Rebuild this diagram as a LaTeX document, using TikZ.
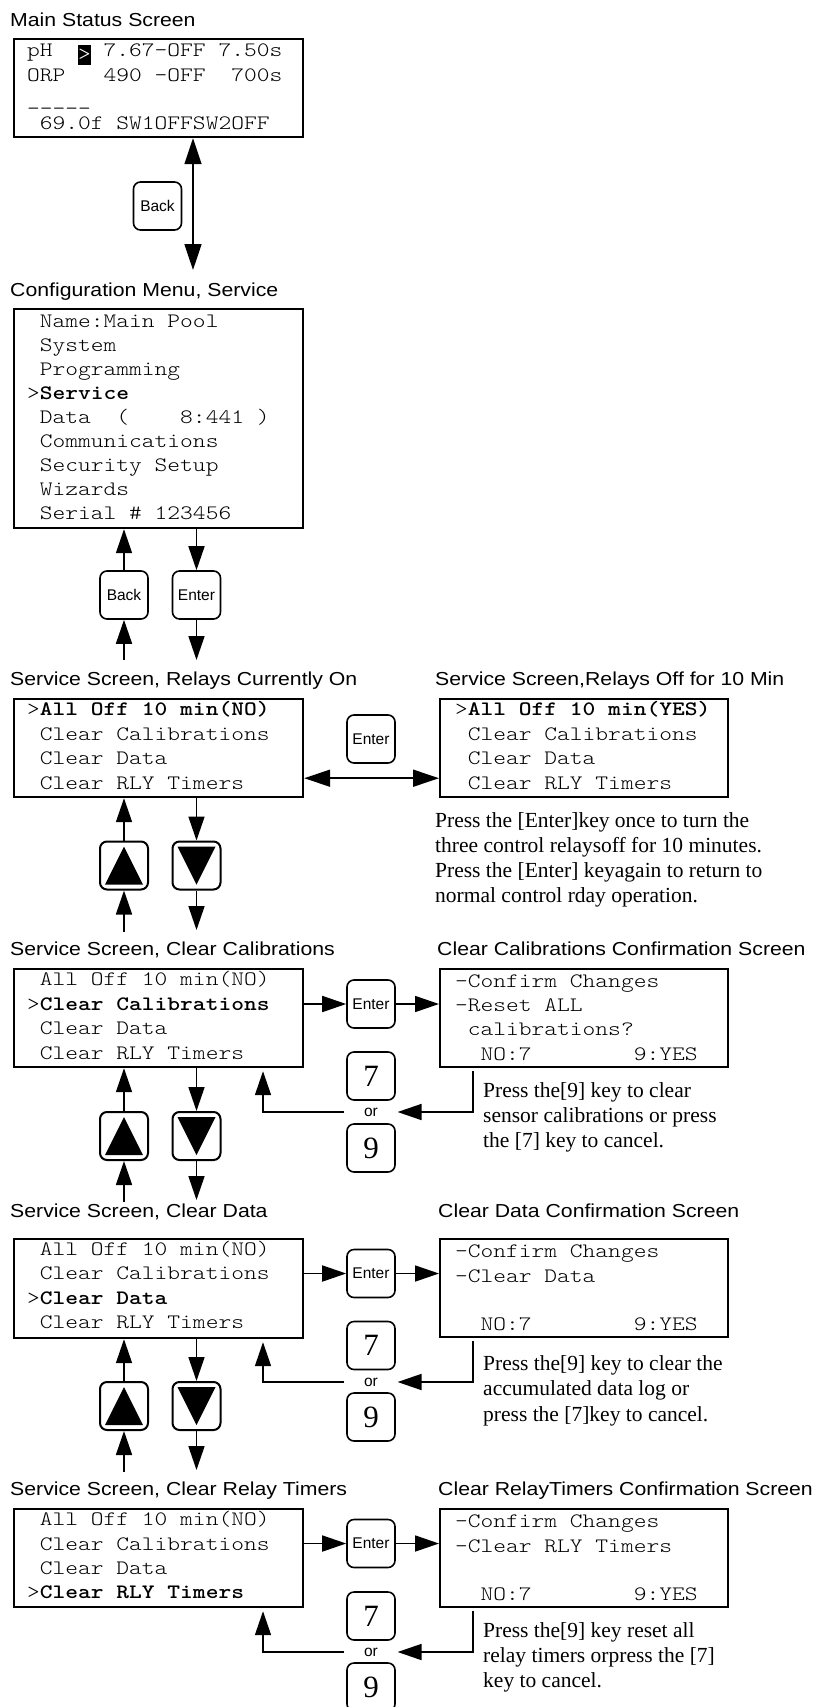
\documentclass[tikz,border=0pt]{standalone}
\usepackage{fontspec}
\usetikzlibrary{arrows.meta,calc}
\newfontfamily\titlef[FakeStretch=1.13]{Liberation Sans}
\newfontfamily\keyf{Liberation Sans}
\newfontfamily\lcdf{lmmonolt10-regular}[Extension=.otf, BoldFont=lmmonolt10-bold, FakeStretch=1.185]
\newfontfamily\parf{Liberation Serif}
\newcommand\upkeytri[1]{\fill ($(#1)+(0,-19)$) -- ($(#1)+(19,19)$) -- ($(#1)+(-19,19)$) -- cycle;}
\newcommand\downkeytri[1]{\fill ($(#1)+(0,19)$) -- ($(#1)+(19,-19)$) -- ($(#1)+(-19,-19)$) -- cycle;}
\tikzset{
 screen/.style={draw, line width=2.2pt, inner sep=0, anchor=north west, minimum height=98pt},
 lcd/.style={anchor=base west, inner sep=0, font=\lcdf\fontsize{20.5}{24}\selectfont},
 ttl/.style={anchor=base west, inner sep=0, font=\titlef\fontsize{18.8}{22}\selectfont},
 para/.style={anchor=base west, inner sep=0, font=\parf\fontsize{21.5}{25}\selectfont},
 key/.style={draw, line width=1.6pt, rounded corners=7pt, minimum width=48pt, minimum height=48pt, inner sep=0, font=\keyf\fontsize{15.5}{18}\selectfont},
 arrkey/.style={key, line width=2pt},
 numkey/.style={key, font=\parf\fontsize{31}{31}\selectfont},
 ornode/.style={inner xsep=19.5pt, inner ysep=0, font=\keyf\fontsize{15.5}{18}\selectfont},
 conn/.style={line width=1.7pt, -{Triangle[length=24pt,width=16pt]}},
 dconn/.style={line width=1.7pt, {Triangle[length=26pt,width=17pt]}-{Triangle[length=26pt,width=17pt]}},
}
\begin{document}
\begin{tikzpicture}[x=1pt,y=-1pt]
\useasboundingbox (0,0) rectangle (828,1707);

% ---------- titles ----------
\node[ttl] (t1) at (10,26.5) {Main Status Screen};
\node[ttl] (t2) at (10,296.5) {Configuration Menu, Service};
\node[ttl] (t3) at (10,685) {Service Screen, Relays Currently On};
\node[ttl] (t4) at (435,685) {Service Screen,Relays Off for 10 Min};
\node[ttl] (t5) at (10,955) {Service Screen, Clear Calibrations};
\node[ttl] (t6) at (437,955) {Clear Calibrations Confirmation Screen};
\node[ttl] (t7) at (10,1217) {Service Screen, Clear Data};
\node[ttl] (t8) at (438,1217) {Clear Data Confirmation Screen};
\node[ttl] (t9) at (10,1495) {Service Screen, Clear Relay Timers};
\node[ttl] (t10) at (438,1495) {Clear RelayTimers Confirmation Screen};

% ---------- screens ----------
\node[screen, minimum width=289pt] (S1) at (13,38) {};
\node[screen, minimum width=289pt, minimum height=219pt] (S2) at (13,308) {};
\node[screen, minimum width=289pt] (S3) at (13,698) {};
\node[screen, minimum width=288pt] (S4) at (439,698) {};
\node[screen, minimum width=289pt] (S5) at (13,968) {};
\node[screen, minimum width=288pt] (S6) at (439,968) {};
\node[screen, minimum width=289pt, minimum height=99pt] (S7) at (13,1238) {};
\node[screen, minimum width=288pt] (S8) at (439,1238) {};
\node[screen, minimum width=289pt] (S9) at (13,1508) {};
\node[screen, minimum width=288pt] (S10) at (439,1508) {};

% S1 text
\node[lcd] (s1a) at (27,57) {pH~~~~7.67-OFF~7.50s};
\node[fill=black, text=white, inner sep=0, minimum width=13pt, minimum height=20pt, font=\lcdf\fontsize{20.5}{24}\selectfont] (hl) at (84.5,55) {>};
\node[lcd] (s1b) at (27,82) {ORP~~~490~-OFF~~700s};
\node[lcd] (s1c) at (27,105.5) {\_\_\_\_\_};
\node[lcd] (s1d) at (27,130) {~69.0f~SW1OFFSW2OFF};

% S2 text
\node[lcd] (s2a) at (27,327) {~Name:Main~Pool};
\node[lcd] (s2b) at (27,351.1) {~System};
\node[lcd] (s2c) at (27,375.2) {~Programming};
\node[lcd] (s2d) at (27,399.3) {>\textbf{Service}};
\node[lcd] (s2e) at (27,423.4) {~Data~~(~~~~8:441~)};
\node[lcd] (s2f) at (27,447.5) {~Communications};
\node[lcd] (s2g) at (27,471.6) {~Security~Setup};
\node[lcd] (s2h) at (27,495.7) {~Wizards};
\node[lcd] (s2i) at (27,519.8) {~Serial~\#~123456};

% S3 text
\node[lcd] (s3a) at (27,715) {>\textbf{All~Off~10~min(NO)}};
\node[lcd] (s3b) at (27,740) {~Clear~Calibrations};
\node[lcd] (s3c) at (27,764.5) {~Clear~Data};
\node[lcd] (s3d) at (27,789) {~Clear~RLY~Timers};

% S4 text
\node[lcd] (s4a) at (455,715) {>\textbf{All~Off~10~min(YES)}};
\node[lcd] (s4b) at (455,740) {~Clear~Calibrations};
\node[lcd] (s4c) at (455,764.5) {~Clear~Data};
\node[lcd] (s4d) at (455,789) {~Clear~RLY~Timers};

% S5 text
\node[lcd] (s5a) at (27,985) {~All~Off~10~min(NO)};
\node[lcd] (s5b) at (27,1010) {>\textbf{Clear~Calibrations}};
\node[lcd] (s5c) at (27,1034.5) {~Clear~Data};
\node[lcd] (s5d) at (27,1059) {~Clear~RLY~Timers};

% S6 text
\node[lcd] (s6a) at (455,987) {-Confirm~Changes};
\node[lcd] (s6b) at (455,1011) {-Reset~ALL};
\node[lcd] (s6c) at (455,1035) {~calibrations?};
\node[lcd] (s6d) at (455,1060) {~~NO:7~~~~~~~~9:YES};

% S7 text
\node[lcd] (s7a) at (27,1255) {~All~Off~10~min(NO)};
\node[lcd] (s7b) at (27,1279.5) {~Clear~Calibrations};
\node[lcd] (s7c) at (27,1304) {>\textbf{Clear~Data}};
\node[lcd] (s7d) at (27,1328.5) {~Clear~RLY~Timers};

% S8 text
\node[lcd] (s8a) at (455,1257) {-Confirm~Changes};
\node[lcd] (s8b) at (455,1282) {-Clear~Data};
\node[lcd] (s8d) at (455,1330) {~~NO:7~~~~~~~~9:YES};

% S9 text
\node[lcd] (s9a) at (27,1525) {~All~Off~10~min(NO)};
\node[lcd] (s9b) at (27,1550) {~Clear~Calibrations};
\node[lcd] (s9c) at (27,1574.5) {~Clear~Data};
\node[lcd] (s9d) at (27,1598.5) {>\textbf{Clear~RLY~Timers}};

% S10 text
\node[lcd] (s10a) at (455,1527) {-Confirm~Changes};
\node[lcd] (s10b) at (455,1552) {-Clear~RLY~Timers};
\node[lcd] (s10d) at (455,1600) {~~NO:7~~~~~~~~9:YES};

% ---------- paragraphs ----------
\node[para] (p4a) at (435,827) {Press the [Enter]key once to turn the};
\node[para] (p4b) at (435,852.5) {three control relaysoff for 10 minutes.};
\node[para] (p4c) at (435,877.5) {Press the [Enter] keyagain to return to};
\node[para] (p4d) at (435,902) {normal control rday operation.};

\node[para] (p6a) at (483,1097) {Press the[9] key to clear};
\node[para] (p6b) at (483,1122) {sensor calibrations or press};
\node[para] (p6c) at (483,1147) {the [7] key to cancel.};

\node[para] (p8a) at (483,1370) {Press the[9] key to clear the};
\node[para] (p8b) at (483,1395.5) {accumulated data log or};
\node[para] (p8c) at (483,1421) {press the [7]key to cancel.};

\node[para] (p10a) at (483,1637) {Press the[9] key reset all};
\node[para] (p10b) at (483,1662) {relay timers orpress the [7]};
\node[para] (p10c) at (483,1687) {key to cancel.};

% ---------- keys ----------
\node[key] (back1) at (157.5,206) {Back};
\node[key] (back2) at (124,595) {Back};
\node[key] (enter2) at (196.5,595) {Enter};

\node[arrkey] (up3) at (124,865.5) {};
\node[arrkey] (down3) at (196.5,865.5) {};
\node[key] (enter3) at (371,739) {Enter};

\node[arrkey] (up5) at (124,1136) {};
\node[arrkey] (down5) at (196.5,1136) {};
\node[key] (enter5) at (371,1004) {Enter};
\node[numkey] (seven5) at (371,1076) {7};
\node[ornode] (or5) at (371,1112) {or};
\node[numkey] (nine5) at (371,1148) {9};

\node[arrkey] (up7) at (124,1406) {};
\node[arrkey] (down7) at (196.5,1406) {};
\node[key] (enter7) at (371,1273.5) {Enter};
\node[numkey] (seven7) at (371,1345.5) {7};
\node[ornode] (or7) at (371,1382) {or};
\node[numkey] (nine7) at (371,1417) {9};

\node[key] (enter9) at (371,1543.5) {Enter};
\node[numkey] (seven9) at (371,1616) {7};
\node[ornode] (or9) at (371,1652) {or};
\node[numkey] (nine9) at (371,1687) {9};

\upkeytri{up3}\downkeytri{down3}
\upkeytri{up5}\downkeytri{down5}
\upkeytri{up7}\downkeytri{down7}

% ---------- free ends ----------
\coordinate (c1) at (193,270);
\coordinate (b2in) at (124,660);
\coordinate (e2out) at (196.5,660);
\coordinate (u3in) at (124,932);
\coordinate (d3out) at (196.5,930);
\coordinate (u5in) at (124,1202);
\coordinate (d5out) at (196.5,1200);
\coordinate (u7in) at (124,1472);
\coordinate (d7out) at (196.5,1470);

% ---------- connectors ----------
\draw[dconn] ([xshift=180pt]S1.south west) -- (c1);

\draw[conn] (back2.north) -- (back2.north |- S2.south);
\draw[conn] (enter2.north |- S2.south) -- (enter2.north);
\draw[conn] (b2in) -- (back2.south);
\draw[conn] (enter2.south) -- (e2out);

\draw[conn] (up3.north) -- (up3.north |- S3.south);
\draw[conn] (down3.north |- S3.south) -- (down3.north);
\draw[conn] (u3in) -- (up3.south);
\draw[conn] (down3.south) -- (d3out);
\draw[dconn] ([yshift=20pt]S3.south east) -- ([yshift=20pt]S4.south west);

\draw[conn] (up5.north) -- (up5.north |- S5.south);
\draw[conn] (down5.north |- S5.south) -- (down5.north);
\draw[conn] (u5in) -- (up5.south);
\draw[conn] (down5.south) -- (d5out);
\draw[conn] (S5.east |- enter5) -- (enter5.west);
\draw[conn] (enter5.east) -- (enter5.east -| S6.west);
\draw[conn] ([xshift=34pt,yshift=-3pt]S6.south west) |- (or5.east);
\draw[conn] (or5.west) -| ([xshift=250pt,yshift=-3pt]S5.south west);

\draw[conn] (up7.north) -- (up7.north |- S7.south);
\draw[conn] (down7.north |- S7.south) -- (down7.north);
\draw[conn] (u7in) -- (up7.south);
\draw[conn] (down7.south) -- (d7out);
\draw[conn] (S7.east |- enter7) -- (enter7.west);
\draw[conn] (enter7.east) -- (enter7.east -| S8.west);
\draw[conn] ([xshift=34pt,yshift=-3pt]S8.south west) |- (or7.east);
\draw[conn] (or7.west) -| ([xshift=250pt,yshift=-3pt]S7.south west);

\draw[conn] (S9.east |- enter9) -- (enter9.west);
\draw[conn] (enter9.east) -- (enter9.east -| S10.west);
\draw[conn] ([xshift=34pt,yshift=-3pt]S10.south west) |- (or9.east);
\draw[conn] (or9.west) -| ([xshift=250pt,yshift=-3pt]S9.south west);
\end{tikzpicture}
\end{document}
